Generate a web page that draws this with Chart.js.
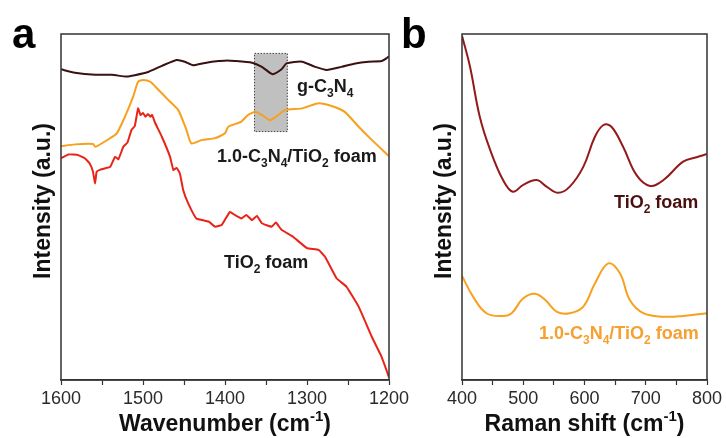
<!DOCTYPE html>
<html>
<head>
<meta charset="utf-8">
<script src="https://cdn.jsdelivr.net/npm/chart.js@4.4.1/dist/chart.umd.min.js"></script>
<style>
  body { margin: 0; background: #fff; width: 726px; height: 438px; overflow: hidden; position: relative; }
  #wrapA { position: absolute; left: 0; top: 0; width: 430px; height: 438px; }
  #wrapB { position: absolute; left: 390px; top: 0; width: 336px; height: 438px; }
</style>
</head>
<body>
<div id="wrapA"><canvas id="chartA"></canvas></div>
<div id="wrapB"><canvas id="chartB"></canvas></div>
<script>
// ---- panel a: FTIR (wavenumber, cm-1) ----
const gcnWave = [1600, 1583, 1558, 1538, 1520, 1510, 1493, 1477, 1459, 1449, 1439, 1428, 1416, 1400, 1388, 1367, 1355, 1342, 1331, 1325, 1306, 1290, 1276, 1258, 1241, 1225, 1209, 1203, 1200];
const gcnInt  = [89.8, 88.8, 88.2, 88.2, 87.7, 88.1, 89.1, 90.8, 92.5, 92.0, 91.0, 91.5, 92.0, 92.3, 92.2, 91.7, 90.5, 88.4, 89.8, 91.5, 92.0, 90.5, 89.6, 90.5, 91.5, 92.0, 92.2, 93.0, 93.6];

const compWave = [1600, 1583, 1561, 1558, 1542, 1532, 1522, 1512, 1506, 1500, 1491, 1481, 1469, 1457, 1447, 1441, 1428, 1412, 1400, 1396, 1380, 1372, 1363, 1355, 1345, 1335, 1327, 1306, 1286, 1270, 1254, 1237, 1221, 1200];
const compInt  = [67.6, 68.1, 68.2, 67.4, 69.6, 71.3, 76.1, 81.9, 86.2, 86.7, 86.2, 83.8, 80.9, 78.0, 72.3, 68.4, 69.4, 69.9, 71.3, 73.2, 74.7, 76.6, 77.5, 76.6, 75.1, 76.6, 78.0, 78.5, 80.0, 79.2, 77.5, 73.2, 69.4, 64.7];

const tioWave = [1600, 1591, 1579, 1571, 1565, 1561, 1558.5, 1556.5, 1552, 1546, 1540, 1534, 1530, 1524, 1519, 1514, 1510, 1506, 1503, 1500, 1497, 1494, 1491, 1489, 1485, 1477, 1467, 1463, 1459, 1455, 1451, 1445, 1435, 1420, 1412, 1404, 1394, 1388, 1380, 1374, 1367, 1361, 1355, 1343, 1338, 1331, 1317, 1300, 1286, 1278, 1264, 1252, 1237, 1221, 1209, 1200];
const tioInt  = [64.1, 65.2, 65.0, 64.1, 62.6, 60.2, 56.8, 60.2, 60.8, 61.2, 61.6, 64.5, 63.8, 67.4, 68.6, 72.3, 73.4, 78.5, 76.6, 77.2, 76.1, 76.9, 76.1, 76.6, 74.2, 70.3, 64.5, 60.7, 61.3, 59.7, 54.9, 51.1, 46.7, 45.8, 44.3, 44.8, 48.6, 47.7, 46.7, 47.7, 46.2, 47.4, 45.3, 44.3, 45.5, 43.4, 41.4, 38.1, 37.6, 35.6, 29.4, 27.0, 21.2, 12.5, 6.7, 0.8];

// ---- panel b: Raman (shift, cm-1) ----
const ramTioShift = [400, 413, 429, 446, 467, 483, 500, 522, 538, 557, 576, 598, 617, 631, 644, 663, 685, 707, 729, 761, 783, 800];
const ramTioInt   = [99.5, 90.6, 76.1, 66.5, 57.8, 54.4, 56.4, 57.8, 55.9, 54.1, 55.9, 61.6, 70.3, 73.7, 73.2, 67.4, 59.2, 56.1, 57.8, 63.1, 64.4, 65.3];

const ramCompShift = [400, 418, 440, 467, 481, 500, 519, 536, 555, 576, 598, 617, 639, 658, 674, 696, 729, 761, 800];
const ramCompInt   = [30.1, 24.1, 19.3, 18.5, 19.3, 23.6, 24.9, 23.1, 19.7, 19.3, 21.2, 27.9, 33.7, 30.8, 23.1, 19.3, 18.3, 18.5, 19.3];

const ticksA = [1600, 1500, 1400, 1300, 1200];
const ticksB = [400, 500, 600, 700, 800];

// shaded band in panel a
const bandWave = [1364, 1324];
const bandInt = [71.8, 94.4];

const FONT = '"Liberation Sans", Arial, sans-serif';

function pts(xs, ys) {
  return xs.map((x, i) => ({ x: x, y: ys[i] }));
}

// draw text made of pieces: [text, 0=normal, 1=sub, 2=sup]
function richText(ctx, parts, x, y, size, weight, color, align) {
  const small = Math.round(size * 0.65);
  let total = 0;
  parts.forEach(p => {
    ctx.font = weight + ' ' + (p[1] ? small : size) + 'px ' + FONT;
    total += ctx.measureText(p[0]).width;
  });
  let cx = x;
  if (align === 'center') cx = x - total / 2;
  if (align === 'right') cx = x - total;
  ctx.fillStyle = color;
  ctx.textAlign = 'left';
  ctx.textBaseline = 'alphabetic';
  parts.forEach(p => {
    ctx.font = weight + ' ' + (p[1] ? small : size) + 'px ' + FONT;
    let dy = 0;
    if (p[1] === 1) dy = size * 0.3;
    if (p[1] === 2) dy = -size * 0.42;
    ctx.fillText(p[0], cx, y + dy);
    cx += ctx.measureText(p[0]).width;
  });
}

function makeOptions(min, max, reverse, ticks, padding) {
  return {
    responsive: true,
    maintainAspectRatio: false,
    animation: false,
    layout: { padding: padding },
    elements: { point: { radius: 0 } },
    scales: {
      x: {
        type: 'linear',
        min: min,
        max: max,
        reverse: reverse,
        afterFit: s => { s.height = 58; },
        afterBuildTicks: s => {
          const t = [];
          for (let v = min; v <= max; v += 50) t.push({ value: v });
          s.ticks = t;
        },
        ticks: {
          autoSkip: false,
          maxRotation: 0,
          padding: 3,
          color: '#2a2a2a',
          font: { family: FONT, size: 18 },
          callback: v => ticks.includes(v) ? String(v) : ''
        },
        grid: { drawOnChartArea: false, color: '#333', tickLength: 5, tickWidth: 1.2 },
        border: { display: true, color: '#333', width: 1.5 }
      },
      y: { display: false, min: 0, max: 100 }
    }
  };
}

const framePlugin = {
  id: 'frame',
  beforeDatasetsDraw(chart, args, opts) {
    const ctx = chart.ctx;
    if (opts.band) {
      const x1 = chart.scales.x.getPixelForValue(bandWave[0]);
      const x2 = chart.scales.x.getPixelForValue(bandWave[1]);
      const y1 = chart.scales.y.getPixelForValue(bandInt[1]);
      const y2 = chart.scales.y.getPixelForValue(bandInt[0]);
      ctx.save();
      ctx.fillStyle = '#c0c0c0';
      ctx.fillRect(x1, y1, x2 - x1, y2 - y1);
      ctx.strokeStyle = '#444';
      ctx.lineWidth = 1;
      ctx.setLineDash([1.5, 1.5]);
      ctx.strokeRect(x1, y1, x2 - x1, y2 - y1);
      ctx.restore();
    }
  },
  afterDraw(chart, args, opts) {
    const ctx = chart.ctx;
    const a = chart.chartArea;
    ctx.save();
    ctx.strokeStyle = '#333';
    ctx.lineWidth = 1.5;
    ctx.strokeRect(a.left, a.top, a.right - a.left, a.bottom - a.top);
    ctx.restore();

    ctx.save();
    // panel letter
    ctx.font = 'bold 42px ' + FONT;
    ctx.fillStyle = '#000';
    ctx.textAlign = 'left';
    ctx.fillText(opts.letter, opts.letterX, 48);

    // axis titles
    const cx = (a.left + a.right) / 2;
    richText(ctx, opts.xTitle, cx, 431, 23, 'bold', '#111', 'center');
    ctx.translate(opts.yTitleX, (a.top + a.bottom) / 2 - 6);
    ctx.rotate(-Math.PI / 2);
    richText(ctx, [['Intensity (a.u.)', 0]], 0, 0, 23, 'bold', '#111', 'center');
    ctx.restore();

    ctx.save();
    opts.labels.forEach(l => {
      richText(ctx, l.parts, l.x, l.y, l.size, l.weight, l.color, 'left');
    });
    ctx.restore();
  }
};

const titleA = [['Wavenumber (cm', 0], ['-1', 2], [')', 0]];
const titleB = [['Raman shift (cm', 0], ['-1', 2], [')', 0]];

new Chart(document.getElementById('chartA'), {
  type: 'line',
  data: {
    datasets: [
      { data: pts(gcnWave, gcnInt), borderColor: '#3a1010', borderWidth: 2, tension: 0.2 },
      { data: pts(compWave, compInt), borderColor: '#f7a01c', borderWidth: 2, tension: 0.2 },
      { data: pts(tioWave, tioInt), borderColor: '#e82418', borderWidth: 2, tension: 0.1 }
    ]
  },
  options: Object.assign(makeOptions(1200, 1600, true, ticksA, { left: 61, right: 41, top: 34, bottom: 0 }), {
    plugins: {
      legend: { display: false }, tooltip: { enabled: false },
      frame: {
        band: true, letter: 'a', letterX: 12, yTitleX: 50, xTitle: titleA,
        labels: [
          { parts: [['g-C', 0], ['3', 1], ['N', 0], ['4', 1]], x: 297, y: 92, size: 18, weight: 'bold', color: '#1a1a1a' },
          { parts: [['1.0-C', 0], ['3', 1], ['N', 0], ['4', 1], ['/TiO', 0], ['2', 1], [' foam', 0]], x: 217, y: 162, size: 18, weight: 'bold', color: '#1a1a1a' },
          { parts: [['TiO', 0], ['2', 1], [' foam', 0]], x: 224, y: 268, size: 18, weight: 'bold', color: '#1a1a1a' }
        ]
      }
    }
  }),
  plugins: [framePlugin]
});

new Chart(document.getElementById('chartB'), {
  type: 'line',
  data: {
    datasets: [
      { data: pts(ramTioShift, ramTioInt), borderColor: '#941a1a', borderWidth: 2, tension: 0.4 },
      { data: pts(ramCompShift, ramCompInt), borderColor: '#f8a020', borderWidth: 2, tension: 0.4 }
    ]
  },
  options: Object.assign(makeOptions(400, 800, false, ticksB, { left: 72, right: 19, top: 34, bottom: 0 }), {
    plugins: {
      legend: { display: false }, tooltip: { enabled: false },
      frame: {
        band: false, letter: 'b', letterX: 11, yTitleX: 61, xTitle: titleB,
        labels: [
          { parts: [['TiO', 0], ['2', 1], [' foam', 0]], x: 224, y: 208, size: 18, weight: 'bold', color: '#4a1010' },
          { parts: [['1.0-C', 0], ['3', 1], ['N', 0], ['4', 1], ['/TiO', 0], ['2', 1], [' foam', 0]], x: 149, y: 339, size: 18, weight: 'bold', color: '#f5a030' }
        ]
      }
    }
  }),
  plugins: [framePlugin]
});
</script>
</body>
</html>
